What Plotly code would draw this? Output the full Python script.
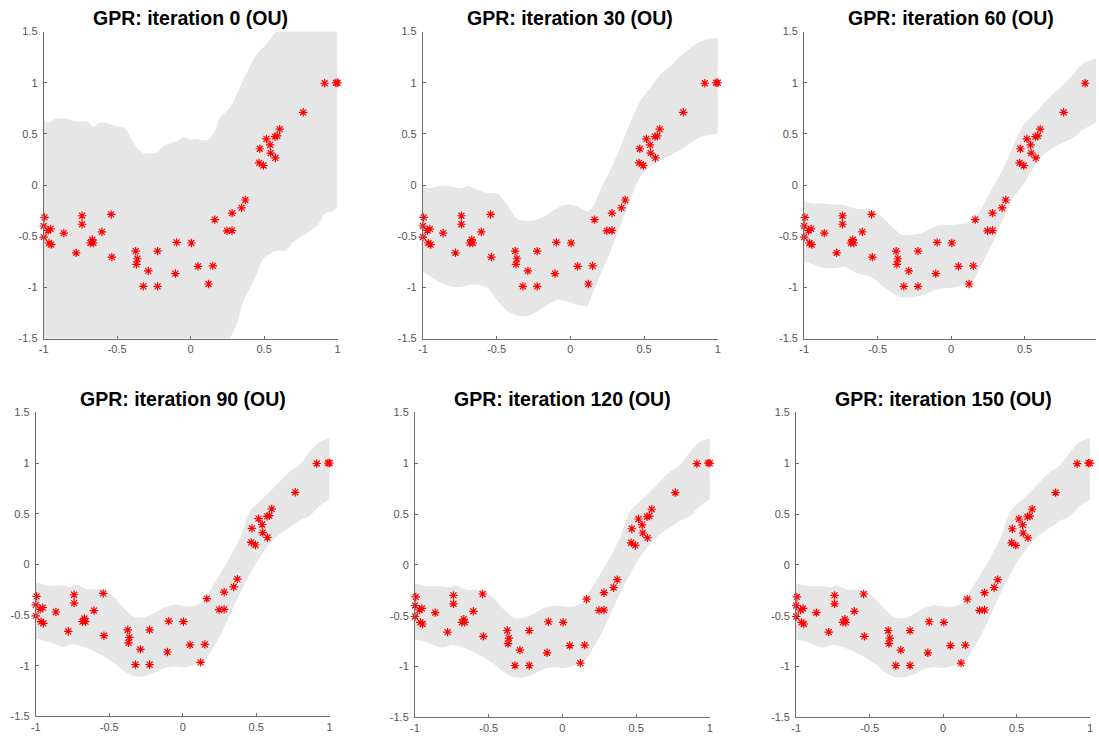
import plotly.graph_objects as go

W, H = 1099, 744

# ---- observations (same in every panel) ----
X_OBS = [-1.0, -0.995, -1.0, -0.97, -0.953, -0.964, -0.948, -0.863, -0.779, -0.739,
         -0.739, -0.682, -0.669, -0.662, -0.604, -0.541, -0.536, -0.374, -0.363, -0.369,
         -0.288, -0.322, -0.225, -0.225, -0.095, -0.104, 0.005, 0.05, 0.151, 0.122,
         0.164, 0.248, 0.282, 0.282, 0.347, 0.372, 0.466, 0.495, 0.471, 0.516,
         0.541, 0.545, 0.577, 0.574, 0.59, 0.606, 0.766, 0.912, 0.989, 1.0]
Y_OBS = [-0.40, -0.316, -0.508, -0.444, -0.428, -0.566, -0.582, -0.47, -0.662, -0.30,
         -0.383, -0.566, -0.534, -0.566, -0.457, -0.287, -0.704, -0.646, -0.72, -0.775,
         -0.839, -0.99, -0.99, -0.646, -0.56, -0.865, -0.566, -0.794, -0.79, -0.967,
         -0.338, -0.447, -0.444, -0.274, -0.223, -0.146, 0.217, 0.191, 0.355, 0.451,
         0.393, 0.313, 0.265, 0.473, 0.48, 0.547, 0.711, 0.995, 1.0, 1.0]

# ---- confidence bands ----
# iteration 0
UP0_X = [-1.0, -0.97, -0.926, -0.87, -0.81, -0.77, -0.70, -0.667, -0.62, -0.577, -0.52,
         -0.45, -0.41, -0.36, -0.32, -0.27, -0.227, -0.18, -0.137, -0.09, -0.047, 0.0,
         0.04, 0.09, 0.12, 0.167, 0.2, 0.268, 0.313, 0.358, 0.403, 0.448, 0.516, 0.56,
         0.595, 0.7, 0.85, 1.0]
UP0_Y = [0.634, 0.61, 0.644, 0.653, 0.637, 0.62, 0.62, 0.57, 0.61, 0.61, 0.58,
         0.557, 0.47, 0.355, 0.31, 0.31, 0.32, 0.386, 0.41, 0.43, 0.467, 0.44,
         0.45, 0.435, 0.44, 0.53, 0.66, 0.756, 0.884, 1.03, 1.157, 1.27, 1.38, 1.46,
         1.52, 1.75, 1.9, 2.0]
LO0_X = [-1.0, -0.5, 0.0, 0.15, 0.22, 0.268, 0.313, 0.358, 0.403, 0.448, 0.493, 0.56,
         0.606, 0.65, 0.696, 0.763, 0.83, 0.876, 0.92, 0.966, 1.0]
LO0_Y = [-2.6, -2.6, -2.4, -2.0, -1.68, -1.5, -1.36, -1.14, -1.01, -0.88, -0.72, -0.656,
         -0.64, -0.64, -0.56, -0.496, -0.43, -0.37, -0.27, -0.255, -0.22]

# iteration 30
BAND30_X = [-1.0, -0.962, -0.895, -0.805, -0.738, -0.693, -0.626, -0.558, -0.49, -0.424,
            -0.356, -0.289, -0.222, -0.155, -0.087, -0.02, 0.047, 0.114, 0.148, 0.204,
            0.271, 0.339, 0.406, 0.473, 0.54, 0.608, 0.675, 0.742, 0.81, 0.877, 0.944, 1.0]
UP30_Y = [0.0, -0.03, -0.008, -0.014, -0.03, -0.008, -0.046, -0.078, -0.085, -0.207,
          -0.335, -0.35, -0.335, -0.287, -0.223, -0.19, -0.207, -0.255, -0.223, -0.046,
          0.146, 0.37, 0.61, 0.82, 0.948, 1.076, 1.157, 1.253, 1.333, 1.397, 1.436, 1.436]
LO30_Y = [-0.85, -0.88, -0.945, -0.993, -0.993, -0.977, -0.977, -1.01, -1.137, -1.233,
          -1.28, -1.28, -1.233, -1.17, -1.12, -1.137, -1.17, -1.185, -1.073, -0.88,
          -0.656, -0.4, -0.143, 0.082, 0.178, 0.242, 0.29, 0.339, 0.403, 0.467, 0.49, 0.5]

# iteration 60
BAND60_X = [-1.0, -0.944, -0.876, -0.786, -0.72, -0.65, -0.54, -0.47, -0.404, -0.337,
            -0.27, -0.2, -0.134, -0.067, 0.0, 0.068, 0.136, 0.18, 0.225, 0.293, 0.36,
            0.428, 0.495, 0.563, 0.63, 0.698, 0.765, 0.833, 0.9, 0.983, 1.0]
UP60_Y = [-0.157, -0.18, -0.18, -0.19, -0.197, -0.23, -0.244, -0.31, -0.405, -0.486,
          -0.486, -0.47, -0.42, -0.39, -0.39, -0.38, -0.357, -0.29, -0.18, -0.003, 0.174,
          0.4, 0.592, 0.69, 0.8, 0.898, 0.98, 1.09, 1.19, 1.236, 1.245]
LO60_Y = [-0.743, -0.775, -0.81, -0.81, -0.80, -0.856, -0.9, -0.985, -1.05, -1.097,
          -1.097, -1.08, -1.04, -1.01, -1.007, -0.985, -0.97, -0.856, -0.73, -0.534, -0.31,
          -0.116, 0.013, 0.174, 0.30, 0.367, 0.415, 0.464, 0.545, 0.61, 0.64]

# iterations 90 / 120 / 150
BANDC_X = [-1.0, -0.914, -0.82, -0.757, -0.73, -0.644, -0.554, -0.464, -0.396, -0.33,
           -0.26, -0.194, -0.126, -0.059, 0.009, 0.077, 0.144, 0.19, 0.257, 0.324, 0.392,
           0.46, 0.527, 0.595, 0.662, 0.73, 0.797, 0.865, 0.932, 1.0]
UPC_Y = [-0.18, -0.21, -0.21, -0.22, -0.2, -0.247, -0.247, -0.328, -0.44, -0.52,
         -0.52, -0.48, -0.425, -0.40, -0.41, -0.41, -0.36, -0.247, -0.09, 0.076, 0.27,
         0.53, 0.626, 0.72, 0.82, 0.917, 0.982, 1.11, 1.21, 1.248]
LOC_Y = [-0.733, -0.765, -0.814, -0.79, -0.79, -0.83, -0.894, -0.976, -1.057, -1.105,
         -1.105, -1.073, -1.024, -1.008, -1.015, -0.99, -0.96, -0.86, -0.70, -0.49, -0.28,
         -0.086, 0.076, 0.206, 0.30, 0.367, 0.432, 0.48, 0.578, 0.642]

TITLES = ["GPR: iteration 0 (OU)", "GPR: iteration 30 (OU)", "GPR: iteration 60 (OU)",
          "GPR: iteration 90 (OU)", "GPR: iteration 120 (OU)", "GPR: iteration 150 (OU)"]

TICK_X = [-1, -0.5, 0, 0.5, 1]
TICK_X_TEXT = ["-1", "-0.5", "0", "0.5", "1"]
TICK_Y = [-1.5, -1, -0.5, 0, 0.5, 1, 1.5]
TICK_Y_TEXT = ["-1.5", "-1", "-0.5", "0", "0.5", "1", "1.5"]

bands = [
    (LO0_X, LO0_Y, UP0_X, UP0_Y),
    (BAND30_X, LO30_Y, BAND30_X, UP30_Y),
    (BAND60_X, LO60_Y, BAND60_X, UP60_Y),
    (BANDC_X, LOC_Y, BANDC_X, UPC_Y),
    (BANDC_X, LOC_Y, BANDC_X, UPC_Y),
    (BANDC_X, LOC_Y, BANDC_X, UPC_Y),
]

# panel pixel boxes: (x0, x1, ytop, ybottom, xmax)
boxes = [
    (39, 335, 26, 338, 1.0),
    (421, 718, 26, 338, 1.0),
    (805, 1099, 26, 338, 0.986),
    (31, 327, 413, 722, 1.0),
    (413, 710, 413, 723, 1.0),
    (797, 1093, 413, 723, 1.0),
]

FILL = "#e6e6e6"
AXC = "#6e6e6e"
TXT = "#555555"
FONT = "Liberation Sans, Arial, sans-serif"

fig = go.Figure()
layout = dict(width=W, height=H, margin=dict(l=0, r=0, t=0, b=0),
              paper_bgcolor="white", plot_bgcolor="white", showlegend=False,
              font=dict(family=FONT))
annotations = []
for i in range(6):
    ax = "" if i == 0 else str(i + 1)
    lx, ly, ux, uy = bands[i]
    fig.add_trace(go.Scatter(x=lx, y=ly, mode="lines", line=dict(width=0, shape="spline", smoothing=0.7),
                             xaxis="x" + ax, yaxis="y" + ax, hoverinfo="skip"))
    fig.add_trace(go.Scatter(x=ux, y=uy, mode="lines", fill="tonexty", fillcolor=FILL,
                             line=dict(width=0, shape="spline", smoothing=0.7),
                             xaxis="x" + ax, yaxis="y" + ax, hoverinfo="skip"))
    fig.add_trace(go.Scatter(x=X_OBS, y=Y_OBS, mode="markers", cliponaxis=False,
                             marker=dict(symbol="asterisk-open", size=7, color="red",
                                         line=dict(color="red", width=1.2)),
                             xaxis="x" + ax, yaxis="y" + ax))
    x0, x1, yt, yb, xmax = boxes[i]
    common = dict(showline=True, linecolor=AXC, linewidth=1, showgrid=False, zeroline=False,
                  ticks="inside", ticklen=3, tickcolor=AXC, tickwidth=1,
                  tickfont=dict(size=11, color=TXT, family=FONT))
    layout["xaxis" + ax] = dict(domain=[x0 / W, x1 / W], range=[-1, xmax], anchor="y" + ax,
                                tickvals=TICK_X, ticktext=TICK_X_TEXT, **common)
    layout["yaxis" + ax] = dict(domain=[1 - yb / H, 1 - yt / H], range=[-1.5, 1.5], anchor="x" + ax,
                                tickvals=TICK_Y, ticktext=TICK_Y_TEXT, ticklabelstandoff=3, **common)
    cx = (x0 + (x0 + (x1 - x0) * 2 / (xmax + 1))) / 2
    ty = 12 if yt < 100 else 399
    annotations.append(dict(text="<b>" + TITLES[i] + "</b>", x=cx / W, y=1 - ty / H,
                            xref="paper", yref="paper", xanchor="center", yanchor="middle",
                            showarrow=False, font=dict(size=19.5, color="black", family=FONT)))
layout["annotations"] = annotations
fig.update_layout(**layout)
fig.write_html("out.html", config={"displayModeBar": False},
               post_script="document.body.style.margin='0';")
